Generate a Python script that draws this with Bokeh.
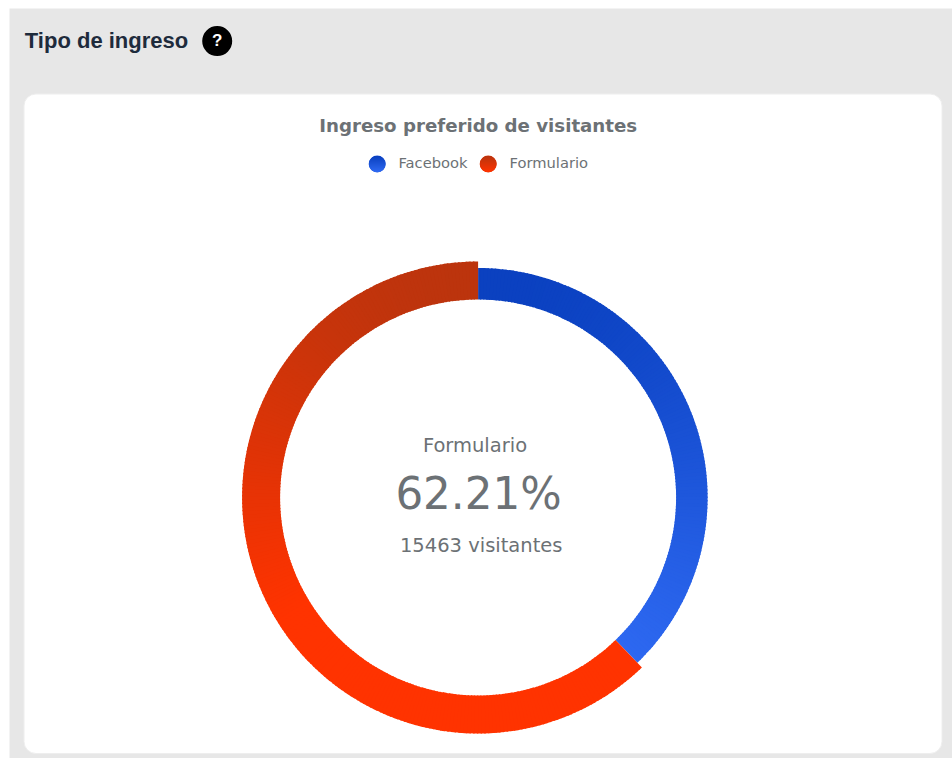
from bokeh.plotting import figure
from bokeh.models import Range1d, BoxAnnotation
from bokeh.core.properties import value
from bokeh.embed import file_html
from bokeh.resources import INLINE
import numpy as np

# data
categories = ["Facebook", "Formulario"]
shares = [37.79, 62.21]
main_title = "Tipo de ingreso"
chart_title = "Ingreso preferido de visitantes"
center_label = "Formulario"
center_value = "62.21%"
center_detail = "15463 visitantes"

# style
W, H = 952, 758
GREY = "#e7e7e7"
TXT = "#6c7175"
CX, CY = 477.6, 497.0
R_IN = 198.0
R_OUT = [229.5, 236.0]
TOPC = [(9, 63, 190), (184, 52, 14)]
BOTC = [(46, 105, 242), (255, 51, 0)]
Y_SPAN = [(267, 662), (260, 610)]


def Y(py):
    return H - py


def hexc(c):
    return "#%02x%02x%02x" % tuple(int(round(v)) for v in c)


def mix(i, py):
    t = np.clip((py - Y_SPAN[i][0]) / (Y_SPAN[i][1] - Y_SPAN[i][0]), 0, 1)
    return hexc([a + (b - a) * t for a, b in zip(TOPC[i], BOTC[i])])


p = figure(width=W, height=H, output_backend="svg", toolbar_location=None,
           x_range=Range1d(0, W), y_range=Range1d(0, H),
           min_border=0, outline_line_color=None, background_fill_color="white",
           border_fill_color="white")
p.xaxis.visible = False
p.yaxis.visible = False
p.grid.visible = False

p.add_layout(BoxAnnotation(left=9, right=952, bottom=Y(758), top=Y(8),
                           fill_color=GREY, fill_alpha=1, line_alpha=0, level="underlay"))
p.add_layout(BoxAnnotation(left=23.5, right=941.5, bottom=Y(753), top=Y(93.5),
                           fill_color="white", fill_alpha=1, line_color="#eeeeee", line_alpha=1,
                           border_radius=12, level="underlay"))

# donut: each share is cut into thin slices to carry the vertical gradient
start = 0.0
for i, share in enumerate(shares):
    sweep = share / 100 * 2 * np.pi
    n = int(share * 4)
    edges = start + np.linspace(0, sweep, n + 1)
    a0, a1, cols = [], [], []
    for k in range(n):
        mid = (edges[k] + edges[k + 1]) / 2
        py = CY - (R_IN + R_OUT[i]) / 2 * np.cos(mid)
        lo = edges[k] - (0.006 if k else 0)
        a0.append(np.pi / 2 - edges[k + 1])
        a1.append(np.pi / 2 - lo)
        cols.append(mix(i, py))
    p.annular_wedge(x=CX, y=Y(CY), inner_radius=R_IN, outer_radius=R_OUT[i],
                    start_angle=a0, end_angle=a1, fill_color=cols, line_color=None)
    start += sweep

# header
p.text(x=[24.3], y=[Y(40)], text=[main_title], text_font=value("Liberation Sans"),
       text_font_style="bold", text_font_size="22px", text_color="#1e2b3c",
       text_baseline="middle", text_align="left")
p.circle(x=[216.7], y=[Y(40.6)], radius=15, fill_color="black", line_color=None)
p.text(x=[216.7], y=[Y(40)], text=["?"], text_font=value("Liberation Sans"), text_font_style="bold",
       text_font_size="17px", text_color="white", text_baseline="middle", text_align="center")

# chart title and legend
p.text(x=[477.7], y=[Y(125)], text=[chart_title], text_font=value("DejaVu Sans"), text_font_style="bold",
       text_font_size="18.2px", text_color=TXT, text_baseline="middle", text_align="center")
for i, (mx, tx) in enumerate(zip([376.7, 487.7], [398, 509])):
    p.circle(x=[mx], y=[Y(163.5)], radius=8.5, fill_color=mix(i, (Y_SPAN[i][0] + Y_SPAN[i][1]) / 2), line_color=None)
    rows = np.arange(-8, 8) + 0.5
    p.hbar(y=Y(163.5 + rows), height=1.05, left=mx - np.sqrt(8.2 ** 2 - rows ** 2),
           right=mx + np.sqrt(8.2 ** 2 - rows ** 2),
           fill_color=[mix(i, Y_SPAN[i][0] + (r + 8) / 16 * (Y_SPAN[i][1] - Y_SPAN[i][0])) for r in rows],
           line_color=None)
    p.text(x=[tx], y=[Y(162)], text=[categories[i]], text_font=value("DejaVu Sans"), text_font_size="14.7px",
           text_color=TXT, text_baseline="middle", text_align="left")

# centre
p.text(x=[474.5], y=[Y(445)], text=[center_label], text_font=value("DejaVu Sans"), text_font_size="19.5px",
       text_color=TXT, text_baseline="middle", text_align="center")
p.text(x=[478], y=[Y(493)], text=[center_value], text_font=value("DejaVu Sans"), text_font_size="43.6px",
       text_color=TXT, text_baseline="middle", text_align="center")
p.text(x=[480.7], y=[Y(545)], text=[center_detail], text_font=value("DejaVu Sans"), text_font_size="19.5px",
       text_color=TXT, text_baseline="middle", text_align="center")

open("out.html", "w").write(file_html(p, INLINE))
